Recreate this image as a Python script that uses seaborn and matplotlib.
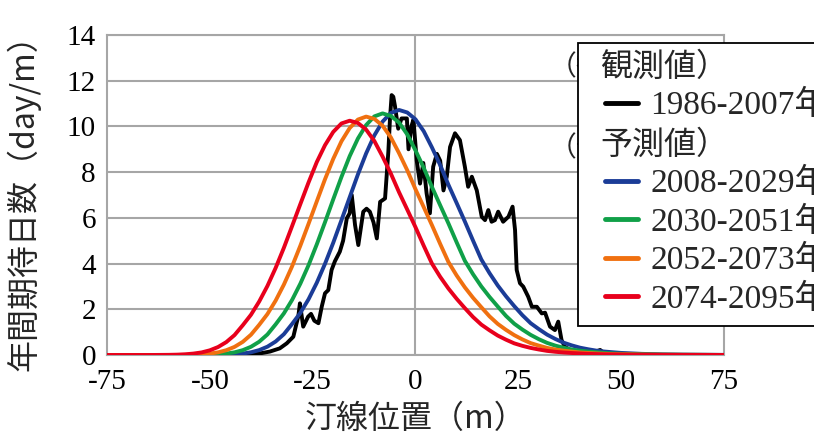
import glob
import matplotlib
matplotlib.use("Agg")
import matplotlib.pyplot as plt
import pandas as pd
import seaborn as sns
from matplotlib import font_manager
from matplotlib.lines import Line2D
from matplotlib.patches import Rectangle
from matplotlib.font_manager import FontProperties

# observed 1986-2007 (black, noisy)
obs_x = [-75, -50, -42, -40, -37.8, -35.4, -33.0, -31.3, -29.7, -28.9, -28.5, -28.1, -27.3, -26.1,
         -25.4, -24.6, -23.6, -22.8, -22.0, -21.2, -20.4, -19.6, -18.4, -17.6, -16.7, -16.0, -15.5,
         -14.7, -13.9, -12.7, -11.9, -11.1, -10.2, -9.4, -8.6, -7.4, -6.6, -6.2, -5.8, -5.4, -5.0,
         -4.2, -3.4, -2.1, -1.7, -1.0, -0.5, 0.3, 1.1, 1.9, 2.7, 3.5, 4.3, 5.2, 6.0, 6.8, 7.6, 8.4,
         9.6, 10.8, 12.0, 12.8, 13.7, 14.9, 16.1, 16.9, 17.7, 18.5, 19.3, 20.1, 21.3, 22.6, 23.6,
         24.2, 24.6, 25.4, 26.2, 27.4, 28.3, 29.5, 30.7, 31.5, 32.7, 33.9, 34.7, 35.5, 36.3, 37.6,
         39.0, 41.0, 43.0, 44.9, 46.0, 48.0, 75]
obs_v = [0, 0, 0, 0.02, 0.07, 0.15, 0.29, 0.51, 0.8, 1.4, 1.68, 2.26, 1.24, 1.68,
         1.8, 1.5, 1.39, 2.11, 2.7, 2.84, 3.72, 4.1, 4.52, 5.0, 5.98, 6.2, 7.0,
         5.69, 4.81, 6.27, 6.4, 6.27, 5.8, 5.1, 6.7, 6.85, 8.9, 10.35, 11.37, 11.3, 10.9,
         9.9, 10.35, 10.35, 9.0, 10.0, 10.3, 8.5, 7.5, 8.4, 7.07, 6.2, 8.24, 8.8, 8.5, 7.2, 7.8, 9.1,
         9.7, 9.4, 8.24, 7.36, 7.8, 7.2, 6.05, 5.9, 6.34, 5.83, 5.9, 6.27, 5.83, 6.05, 6.49,
         5.47, 3.72, 3.14, 2.99, 2.55, 2.11, 2.11, 1.82, 1.85, 1.24, 1.09, 1.46, 0.66, 0.36, 0.22,
         0.1, 0.08, 0.1, 0.22, 0.05, 0, 0]

# projected curves share one x grid
proj_x = [-75, -65] + list(range(-60, 52, 2)) + [55, 60, 65, 75]
v_2008 = [0, 0,
          0, 0, 0, 0, 0, 0, 0.0075, 0.016, 0.032, 0.064,
          0.118, 0.214, 0.364, 0.59, 0.91, 1.36, 1.84, 2.44, 3.16, 3.99,
          4.91, 5.90, 6.90, 7.90, 8.82, 9.61, 10.21, 10.59, 10.72, 10.61,
          10.31, 9.79, 9.08, 8.31, 7.45, 6.65, 5.84, 5.0, 4.18, 3.58,
          3.04, 2.57, 2.14, 1.74, 1.39, 1.13, 0.89, 0.70, 0.54, 0.42,
          0.32, 0.25, 0.19, 0.15, 0.12, 0.091,
          0.05, 0.027, 0.016, 0.005]
v_2030 = [0, 0,
          0, 0, 0, 0, 0.007, 0.016, 0.032, 0.063, 0.116, 0.211,
          0.359, 0.581, 0.898, 1.34, 1.82, 2.41, 3.12, 3.93, 4.84, 5.81,
          6.81, 7.79, 8.70, 9.47, 10.06, 10.44, 10.57, 10.46, 10.17, 9.65,
          8.95, 8.19, 7.35, 6.55, 5.76, 4.93, 4.12, 3.53, 3.00, 2.54,
          2.12, 1.71, 1.37, 1.11, 0.88, 0.69, 0.53, 0.41, 0.32, 0.24,
          0.19, 0.15, 0.12, 0.09, 0.069, 0.053,
          0.03, 0.017, 0.01, 0.003]
v_2052 = [0, 0,
          0, 0, 0.007, 0.016, 0.031, 0.063, 0.115, 0.209, 0.355, 0.574,
          0.887, 1.32, 1.79, 2.38, 3.08, 3.88, 4.78, 5.74, 6.72, 7.69,
          8.58, 9.35, 9.93, 10.30, 10.43, 10.33, 10.03, 9.52, 8.83, 8.08,
          7.25, 6.47, 5.68, 4.86, 4.07, 3.48, 2.96, 2.50, 2.09, 1.69,
          1.36, 1.10, 0.87, 0.68, 0.52, 0.41, 0.31, 0.24, 0.19, 0.15,
          0.11, 0.089, 0.068, 0.052, 0.04, 0.031,
          0.018, 0.01, 0.006, 0.002]
v_2074 = [0, 0,
          0.007, 0.015, 0.031, 0.062, 0.113, 0.205, 0.349, 0.564, 0.871, 1.30,
          1.76, 2.34, 3.02, 3.81, 4.69, 5.64, 6.60, 7.55, 8.44, 9.18,
          9.76, 10.13, 10.25, 10.15, 9.86, 9.36, 8.68, 7.94, 7.12, 6.36,
          5.59, 4.78, 4.00, 3.42, 2.91, 2.46, 2.05, 1.66, 1.33, 1.08,
          0.85, 0.67, 0.51, 0.40, 0.31, 0.24, 0.18, 0.14, 0.11, 0.087,
          0.067, 0.051, 0.039, 0.03, 0.025, 0.02,
          0.01, 0.007, 0.005, 0.002]

labels = ["1986-2007年", "2008-2029年", "2030-2051年", "2052-2073年", "2074-2095年"]
colors = ["#000000", "#1b3c97", "#10a048", "#f07010", "#e8001c"]

rows = [pd.DataFrame({"x": obs_x, "v": obs_v, "series": labels[0]})]
for lab, vals in zip(labels[1:], [v_2008, v_2030, v_2052, v_2074]):
    rows.append(pd.DataFrame({"x": proj_x, "v": vals, "series": lab}))
df = pd.concat(rows, ignore_index=True)

# make sure the serif files are registered
for pat in ["/usr/share/fonts/**/Liberation*Serif*.ttf", "/usr/share/fonts/**/DejaVuSerif*.ttf",
            "/usr/local/share/fonts/**/Liberation*Serif*.ttf", "/usr/share/fonts/**/LiberationSerif*.ttf"]:
    for p in glob.glob(pat, recursive=True):
        try:
            font_manager.fontManager.addfont(p)
        except Exception:
            pass

sns.set_style("white")
serif = ["Liberation Serif", "DejaVu Serif", "Noto Sans CJK JP"]
plt.rcParams["font.family"] = serif
plt.rcParams["axes.unicode_minus"] = False

W, H = 814, 441
fig = plt.figure(figsize=(W / 100, H / 100), dpi=100)
ax = fig.add_axes([107 / W, 1 - 355 / H, (724 - 107) / W, 320 / H])

grid_c = "#a6a6a6"
sns.lineplot(data=df, x="x", y="v", hue="series", hue_order=labels,
             palette=dict(zip(labels, colors)), estimator=None, sort=False,
             linewidth=2.8, legend=False, ax=ax, zorder=3)

ax.set_xlim(-75, 75)
ax.set_ylim(0, 14)
ax.set_xticks(range(-75, 76, 25))
ax.set_yticks(range(0, 15, 2))
ax.yaxis.grid(True, color=grid_c, linewidth=1.5)
ax.xaxis.grid(False)
ax.axvline(0, color=grid_c, linewidth=1.5, zorder=1)
ax.set_axisbelow(True)
for sp in ax.spines.values():
    sp.set_visible(True)
    sp.set_color(grid_c)
    sp.set_linewidth(1.5)
ax.tick_params(axis="both", direction="out", length=5, width=1.5, color=grid_c,
               labelsize=21, labelcolor="black")
ax.tick_params(axis="x", pad=5)
ax.tick_params(axis="y", pad=3)
for t in ax.get_xticklabels() + ax.get_yticklabels():
    t.set_family(serif)

cjk = ["Noto Sans CJK JP", "DejaVu Sans"]
ax.set_xlabel("汀線位置（m）", fontsize=23, family=cjk)
ax.set_ylabel("年間期待日数（day/m）", fontsize=23, family=cjk)
ax.xaxis.set_label_coords(0.5, (355 - 403) / 320)
ax.yaxis.set_label_coords((40 - 107) / 617, 0.5)

# text box partly hidden behind the legend
for txt, py in [("（観測値）", 67), ("（予測値）", 148)]:
    ax.text(549 / W, 1 - py / H, txt, transform=fig.transFigure, fontsize=20,
            family=cjk, va="center", ha="left", zorder=4, clip_on=False)

# legend frame runs off the right edge like the reference
ax.add_patch(Rectangle((578 / W, 1 - 326 / H), 260 / W, 283 / H, transform=fig.transFigure,
                       facecolor="white", edgecolor="black", linewidth=1.3,
                       zorder=5, clip_on=False))

blank = Line2D([], [], color="none")
handles = [blank, Line2D([], [], color=colors[0], lw=3.5), blank]
handles += [Line2D([], [], color=c, lw=3.5) for c in colors[1:]]
leg_labels = ["観測値）", labels[0], "予測値）"] + labels[1:]
fs = 24
px_per_em = fs * 100 / 72
hl, htp = 33 / px_per_em, 12 / px_per_em
leg = ax.legend(handles, leg_labels, loc="upper left",
                bbox_to_anchor=(605 / W, 1 - 51 / H), bbox_transform=fig.transFigure,
                frameon=False, borderaxespad=0, borderpad=0,
                handlelength=hl, handletextpad=htp, labelspacing=0.22,
                prop=FontProperties(family=serif, size=fs))
leg.set_zorder(6)
shift = 33 + 12 + 5
for i in (0, 2):
    leg.get_texts()[i].set_family(cjk)
    leg.get_texts()[i].set_fontsize(23)
    leg.get_texts()[i].set_x(-shift)

fig.savefig("out.png", dpi=100)
